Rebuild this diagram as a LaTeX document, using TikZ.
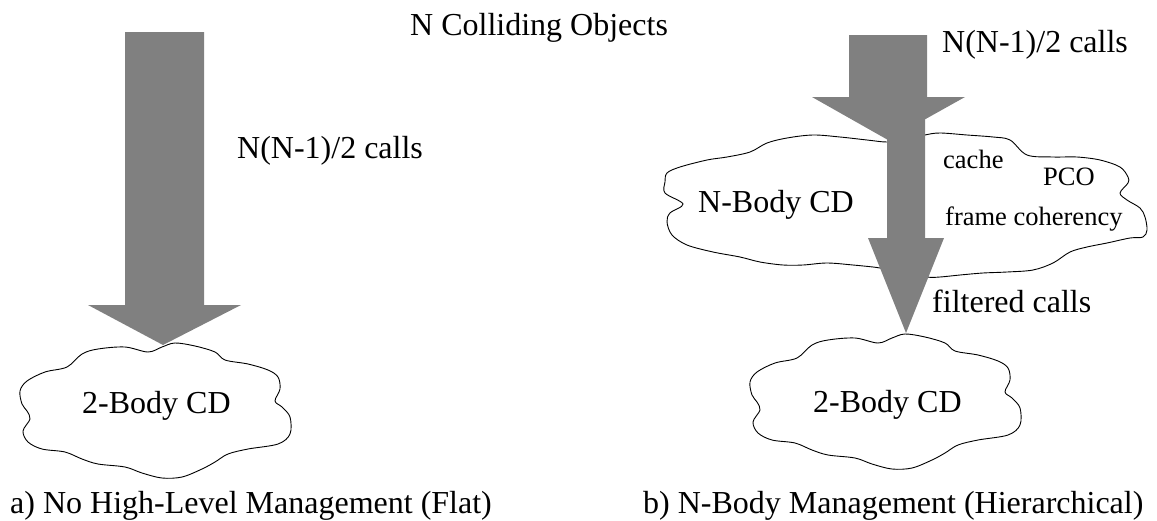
\documentclass[tikz,border=0pt]{standalone}
\usepackage{fontspec}
\setmainfont{Liberation Serif}
\begin{document}
\begin{tikzpicture}[x=1pt,y=-1pt,
  big/.style={font=\fontsize{32}{38}\selectfont, inner sep=0pt, anchor=base west},
  small/.style={font=\fontsize{26.5}{32}\selectfont, inner sep=0pt, anchor=base west},
  flow/.style={fill=black!50, draw=none},
  cloudline/.style={draw=black, line width=0.9pt, fill=white},
  cloudshape/.pic={
    \path[cloudline] plot[smooth cycle, tension=0.55] coordinates {
      (155,1) (175,4) (195,10) (205,18) (228,22) (248,28) (258,35) (260,47)
      (255,59) (262,65) (270,75) (270,92) (258,102) (228,107) (208,112)
      (195,120) (182,127) (162,135) (142,136) (122,131) (105,125) (78,122)
      (62,117) (45,110) (22,107) (8,100) (3,89) (10,77) (7,69) (2,62) (0,49)
      (7,39) (25,30) (47,25) (62,12) (78,7) (105,5) (128,10) (142,5)};
  }]
\useasboundingbox (0,0) rectangle (1157,520);

% two-body collision detector clouds
\pic at (20,342) {cloudshape};
\pic at (750,333) {cloudshape};

% n-body collision detector cloud
\path[cloudline] plot[smooth cycle, tension=0.55] coordinates {
  (665,182) (667,173) (680,167) (707,160) (727,157) (750,152) (767,143)
  (787,138) (813,135) (840,137) (867,140) (887,142) (906,140) (925,135)
  (940,133) (967,135) (993,137) (1010,140) (1027,155) (1053,157) (1077,157)
  (1100,160) (1120,167) (1128,177) (1128,183) (1120,193) (1127,200)
  (1140,208) (1145,217) (1147,230) (1143,237) (1130,238) (1107,243)
  (1087,247) (1070,252) (1053,263) (1033,270) (1007,272) (983,273)
  (960,275) (940,277) (927,277) (906,272) (880,268) (873,267) (853,265)
  (827,263) (803,265) (783,265) (760,262) (740,257) (713,252) (687,245)
  (672,235) (667,222) (670,213) (683,204) (665,193)};

% flat scheme: all pairs go straight to the two-body test
\coordinate (tipA) at (163,345);
\path[flow] (125,32) -- (204,32) -- (204,305) -- (241,305) -- (tipA)
  -- (88,305) -- (125,305) -- cycle;

% hierarchical scheme: all pairs enter the n-body layer, filtered pairs leave it
\coordinate (tipB1) at (888,140);
\coordinate (tipB2) at (906,333);
\path[flow] (849,35) -- (927,35) -- (927,97) -- (965,97) -- (tipB1)
  -- (812,97) -- (849,97) -- cycle;
\path[flow] (887,118) -- (925,118) -- (925,238) -- (944,238) -- (tipB2)
  -- (868,238) -- (887,238) -- cycle;

% labels
\node[big] (title) at (410,35) {N Colliding Objects};
\node[big] (callsA) at (237,158) {N(N-1)/2 calls};
\node[big] (callsB) at (942,52) {N(N-1)/2 calls};
\node[big] (filtered) at (932,312) {filtered calls};
\node[big] (twoA) at (82,413) {2-Body CD};
\node[big] (twoB) at (813,412) {2-Body CD};
\node[big] (nbody) at (698,212) {N-Body CD};
\node[small] (cache) at (943,168) {cache};
\node[small] (pco) at (1043,185) {PCO};
\node[small] (frame) at (945,225) {frame coherency};
\node[big] (capA) at (10,513) {a) No High-Level Management (Flat)};
\node[big] (capB) at (643,513) {b) N-Body Management (Hierarchical)};
\end{tikzpicture}
\end{document}
